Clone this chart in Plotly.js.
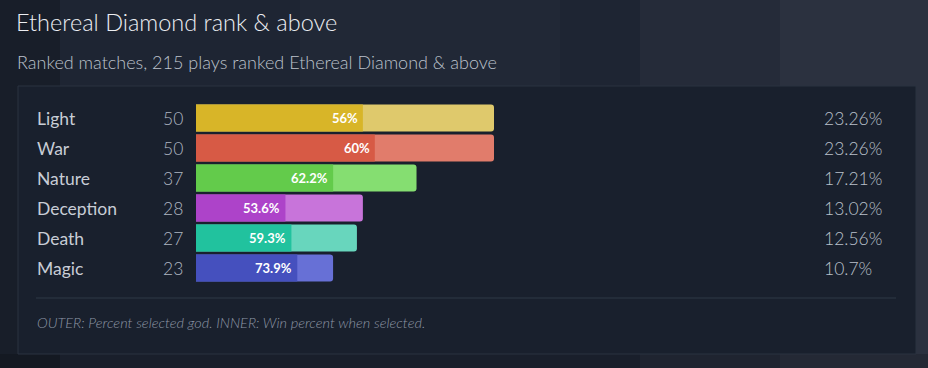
<!DOCTYPE html>
<html>
<head>
<meta charset="utf-8">
<script src="https://cdn.plot.ly/plotly-3.0.1.min.js"></script>
<style>
html,body{margin:0;padding:0;background:#1c2331;}
#chart{width:928px;height:368px;}
</style>
</head>
<body>
<div id="chart"></div>
<script>
// ---- data ----
const gods = ["Light", "War", "Nature", "Deception", "Death", "Magic"];
const plays = [50, 50, 37, 28, 27, 23];
const winPct = [56, 60, 62.2, 53.6, 59.3, 73.9];
const sharePct = [23.26, 23.26, 17.21, 13.02, 12.56, 10.7];
const totalPlays = 215;

// ---- styles ----
const innerColors = ["#d8b528", "#d75a45", "#63cb4b", "#ad43c9", "#21c29e", "#4550be"];
const outerColors = ["#dfc96c", "#e17c6b", "#85de71", "#c874da", "#68d6bd", "#6770d6"];

const W = 928, H = 368;
const px = v => v / W;
const py = v => 1 - v / H;

const innerVals = plays.map((p, i) => p * winPct[i] / 100);

const traces = [
  {
    type: "bar", orientation: "h", y: gods, x: plays,
    marker: {color: outerColors, cornerradius: 3, line: {width: 0}},
    width: 0.9, hoverinfo: "skip"
  },
  {
    type: "bar", orientation: "h", y: gods, x: innerVals,
    marker: {color: innerColors, line: {width: 0}},
    width: 0.9, hoverinfo: "skip"
  }
];

const font = "Lato, 'Open Sans', sans-serif";
const annotations = [];

gods.forEach((g, i) => {
  annotations.push({xref: "paper", yref: "y", x: px(35), y: g, xanchor: "left", yanchor: "middle",
    text: g, showarrow: false, font: {family: font, size: 17.5, color: "#c8cdd6"}});
  annotations.push({xref: "paper", yref: "y", x: px(185), y: g, xanchor: "right", yanchor: "middle",
    text: String(plays[i]), showarrow: false, font: {family: font, size: 17.5, weight: 300, color: "#aeb5c0"}});
  annotations.push({xref: "paper", yref: "y", x: px(822), y: g, xanchor: "left", yanchor: "middle",
    text: sharePct[i] + "%", showarrow: false, font: {family: font, size: 17.5, weight: 300, color: "#b9c0cb"}});
  annotations.push({xref: "x", yref: "y", x: innerVals[i], y: g, xanchor: "right", yanchor: "middle",
    xshift: -3, text: "<b>" + winPct[i] + "%</b>", showarrow: false,
    font: {family: font, size: 13, color: "#ffffff"}});
});

annotations.push({xref: "paper", yref: "paper", x: px(15), y: py(62), xanchor: "left", yanchor: "middle",
  text: "Ranked matches, " + totalPlays + " plays ranked Ethereal Diamond &amp; above", showarrow: false,
  font: {family: font, size: 18, weight: 300, color: "#bcc2cc"}});
annotations.push({xref: "paper", yref: "paper", x: px(35), y: py(322), xanchor: "left", yanchor: "middle",
  text: "<i>OUTER: Percent selected god. INNER: Win percent when selected.</i>", showarrow: false,
  font: {family: font, size: 14.5, weight: 300, color: "#8d96a5"}});

const shapes = [
  // background lighting
  {type: "rect", xref: "paper", yref: "paper", x0: 0, x1: px(60), y0: 0, y1: 1, fillcolor: "rgba(0,0,0,0.18)", line: {width: 0}, layer: "below"},
  {type: "rect", xref: "paper", yref: "paper", x0: px(640), x1: 1, y0: 0, y1: 1, fillcolor: "rgba(255,255,255,0.03)", line: {width: 0}, layer: "below"},
  {type: "rect", xref: "paper", yref: "paper", x0: px(780), x1: 1, y0: 0, y1: 1, fillcolor: "rgba(255,255,255,0.03)", line: {width: 0}, layer: "below"},
  {type: "rect", xref: "paper", yref: "paper", x0: px(300), x1: px(560), y0: py(86), y1: 1, fillcolor: "rgba(255,255,255,0.015)", line: {width: 0}, layer: "below"},
  {type: "rect", xref: "paper", yref: "paper", x0: 0, x1: 1, y0: 0, y1: py(354), fillcolor: "rgba(0,0,0,0.15)", line: {width: 0}, layer: "below"},
  // panel
  {type: "rect", xref: "paper", yref: "paper", x0: px(18), x1: px(916), y0: py(354), y1: py(86),
    fillcolor: "#19202d", line: {color: "#2b3341", width: 1}, layer: "below"},
  // separator
  {type: "line", xref: "paper", yref: "paper", x0: px(36), x1: px(896), y0: py(298), y1: py(298),
    line: {color: "#2f3846", width: 1}}
];

const layout = {
  width: W, height: H,
  margin: {l: 0, r: 0, t: 0, b: 0, pad: 0},
  paper_bgcolor: "#1e2533",
  plot_bgcolor: "rgba(0,0,0,0)",
  showlegend: false,
  barmode: "overlay",
  title: {text: "Ethereal Diamond rank &amp; above", x: px(16), xanchor: "left", xref: "paper",
    y: py(23), yanchor: "middle", yref: "paper", font: {family: font, size: 23.5, weight: 300, color: "#eceef2"}},
  xaxis: {domain: [px(196), px(494)], range: [0, 50], visible: false, fixedrange: true},
  yaxis: {domain: [py(283), py(103)], range: [5.5, -0.5], type: "category", categoryorder: "array",
    categoryarray: gods, visible: false, fixedrange: true},
  annotations: annotations,
  shapes: shapes,
  font: {family: font}
};

Plotly.newPlot("chart", traces, layout, {displayModeBar: false, staticPlot: true});
</script>
</body>
</html>
